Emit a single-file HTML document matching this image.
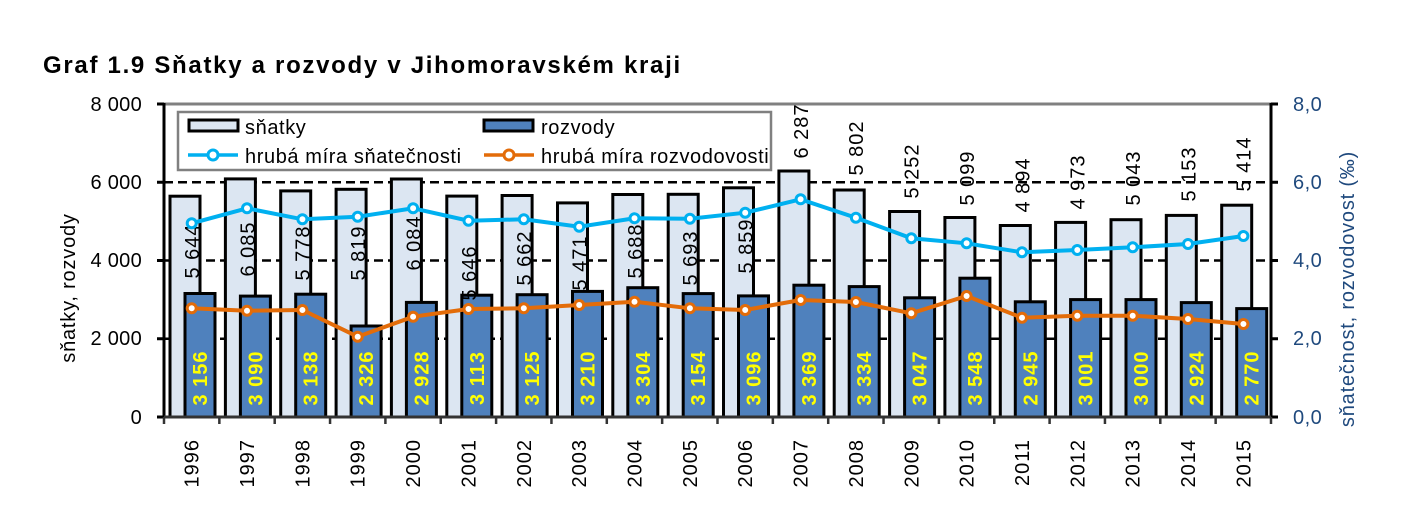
<!DOCTYPE html>
<html><head><meta charset="utf-8"><style>
html,body{margin:0;padding:0;background:#fff;}
svg{display:block;font-family:"Liberation Sans",Arial,sans-serif;}
</style></head><body>
<svg width="1404" height="531" viewBox="0 0 1404 531" xmlns="http://www.w3.org/2000/svg">
<text x="43" y="73" font-size="24" font-weight="bold" letter-spacing="1.7">Graf 1.9 Sňatky a rozvody v Jihomoravském kraji</text>

<line x1="164" y1="104" x2="1271" y2="104" stroke="#808080" stroke-width="3"/>
<g stroke="#000" stroke-width="2.5" stroke-dasharray="9,5">
<line x1="164" y1="182.25" x2="1271" y2="182.25"/>
<line x1="164" y1="260.5" x2="1271" y2="260.5"/>
<line x1="164" y1="338.75" x2="1271" y2="338.75"/>
</g>

<g fill="#dce6f2" stroke="#000" stroke-width="3">
<rect x="170" y="196.2" width="30" height="220.8"/>
<rect x="225.4" y="178.9" width="30" height="238.1"/>
<rect x="280.7" y="190.9" width="30" height="226.1"/>
<rect x="336.1" y="189.3" width="30" height="227.7"/>
<rect x="391.4" y="179" width="30" height="238"/>
<rect x="446.8" y="196.1" width="30" height="220.9"/>
<rect x="502.1" y="195.5" width="30" height="221.5"/>
<rect x="557.5" y="202.9" width="30" height="214.1"/>
<rect x="612.8" y="194.5" width="30" height="222.5"/>
<rect x="668.2" y="194.3" width="30" height="222.7"/>
<rect x="723.5" y="187.8" width="30" height="229.2"/>
<rect x="778.9" y="171" width="30" height="246"/>
<rect x="834.2" y="190" width="30" height="227"/>
<rect x="889.6" y="211.5" width="30" height="205.5"/>
<rect x="944.9" y="217.5" width="30" height="199.5"/>
<rect x="1000.3" y="225.5" width="30" height="191.5"/>
<rect x="1055.6" y="222.4" width="30" height="194.6"/>
<rect x="1111.0" y="219.7" width="30" height="197.3"/>
<rect x="1166.3" y="215.4" width="30" height="201.6"/>
<rect x="1221.7" y="205.2" width="30" height="211.8"/>
</g>
<g fill="#4f81bd" stroke="#000" stroke-width="3">
<rect x="185" y="293.5" width="30" height="123.5"/>
<rect x="240.4" y="296.1" width="30" height="120.9"/>
<rect x="295.7" y="294.2" width="30" height="122.8"/>
<rect x="351.1" y="326" width="30" height="91"/>
<rect x="406.4" y="302.4" width="30" height="114.6"/>
<rect x="461.8" y="295.2" width="30" height="121.8"/>
<rect x="517.1" y="294.7" width="30" height="122.3"/>
<rect x="572.5" y="291.4" width="30" height="125.6"/>
<rect x="627.8" y="287.7" width="30" height="129.3"/>
<rect x="683.2" y="293.6" width="30" height="123.4"/>
<rect x="738.5" y="295.9" width="30" height="121.1"/>
<rect x="793.9" y="285.2" width="30" height="131.8"/>
<rect x="849.2" y="286.6" width="30" height="130.4"/>
<rect x="904.6" y="297.8" width="30" height="119.2"/>
<rect x="959.9" y="278.2" width="30" height="138.8"/>
<rect x="1015.3" y="301.8" width="30" height="115.2"/>
<rect x="1070.6" y="299.6" width="30" height="117.4"/>
<rect x="1126.0" y="299.6" width="30" height="117.4"/>
<rect x="1181.3" y="302.6" width="30" height="114.4"/>
<rect x="1236.7" y="308.6" width="30" height="108.4"/>
</g>

<g font-size="20" letter-spacing="1" text-anchor="middle" fill="#000">
<text transform="translate(192,251) rotate(-90)" dy="7">5 644</text>
<text transform="translate(247.4,249) rotate(-90)" dy="7">6 085</text>
<text transform="translate(302.7,253) rotate(-90)" dy="7">5 778</text>
<text transform="translate(358.1,253) rotate(-90)" dy="7">5 819</text>
<text transform="translate(413.4,243) rotate(-90)" dy="7">6 084</text>
<text transform="translate(468.8,273) rotate(-90)" dy="7">5 646</text>
<text transform="translate(524.1,258) rotate(-90)" dy="7">5 662</text>
<text transform="translate(579.5,263) rotate(-90)" dy="7">5 471</text>
<text transform="translate(634.8,251) rotate(-90)" dy="7">5 688</text>
<text transform="translate(690.2,258) rotate(-90)" dy="7">5 693</text>
<text transform="translate(745.5,246) rotate(-90)" dy="7">5 859</text>
<text transform="translate(800.9,131) rotate(-90)" dy="7">6 287</text>
<text transform="translate(856.2,148) rotate(-90)" dy="7">5 802</text>
<text transform="translate(911.6,171) rotate(-90)" dy="7">5 252</text>
<text transform="translate(966.9,178) rotate(-90)" dy="7">5 099</text>
<text transform="translate(1022.3,185) rotate(-90)" dy="7">4 894</text>
<text transform="translate(1077.6,182) rotate(-90)" dy="7">4 973</text>
<text transform="translate(1133,178) rotate(-90)" dy="7">5 043</text>
<text transform="translate(1188.3,174) rotate(-90)" dy="7">5 153</text>
<text transform="translate(1243.7,164) rotate(-90)" dy="7">5 414</text>
</g>
<g font-size="20" letter-spacing="1" font-weight="bold" text-anchor="middle" fill="#ffff00">
<text transform="translate(200,378) rotate(-90)" dy="7">3 156</text>
<text transform="translate(255.4,378) rotate(-90)" dy="7">3 090</text>
<text transform="translate(310.7,378) rotate(-90)" dy="7">3 138</text>
<text transform="translate(366.1,378) rotate(-90)" dy="7">2 326</text>
<text transform="translate(421.4,378) rotate(-90)" dy="7">2 928</text>
<text transform="translate(476.8,378) rotate(-90)" dy="7">3 113</text>
<text transform="translate(532.1,378) rotate(-90)" dy="7">3 125</text>
<text transform="translate(587.5,378) rotate(-90)" dy="7">3 210</text>
<text transform="translate(642.8,378) rotate(-90)" dy="7">3 304</text>
<text transform="translate(698.2,378) rotate(-90)" dy="7">3 154</text>
<text transform="translate(753.5,378) rotate(-90)" dy="7">3 096</text>
<text transform="translate(808.9,378) rotate(-90)" dy="7">3 369</text>
<text transform="translate(864.2,378) rotate(-90)" dy="7">3 334</text>
<text transform="translate(919.6,378) rotate(-90)" dy="7">3 047</text>
<text transform="translate(974.9,378) rotate(-90)" dy="7">3 548</text>
<text transform="translate(1030.3,378) rotate(-90)" dy="7">2 945</text>
<text transform="translate(1085.6,378) rotate(-90)" dy="7">3 001</text>
<text transform="translate(1141,378) rotate(-90)" dy="7">3 000</text>
<text transform="translate(1196.3,378) rotate(-90)" dy="7">2 924</text>
<text transform="translate(1251.7,378) rotate(-90)" dy="7">2 770</text>
</g>

<polyline fill="none" stroke="#00b0f0" stroke-width="4" points="191.7,223.3 247,208.3 302.4,219.3 357.7,216.7 413.1,208.3 468.5,220.7 523.8,219.3 579.2,226.7 634.5,218.3 689.9,218.7 745.2,212.7 800.6,199.3 855.9,217.7 911.3,238.3 966.6,243.3 1022,252.3 1077.3,250 1132.7,247.3 1188,244 1243.4,236"/>
<g fill="#fff" stroke="#00b0f0" stroke-width="3">
<circle cx="191.7" cy="223.3" r="4.5"/><circle cx="247" cy="208.3" r="4.5"/><circle cx="302.4" cy="219.3" r="4.5"/><circle cx="357.7" cy="216.7" r="4.5"/><circle cx="413.1" cy="208.3" r="4.5"/><circle cx="468.5" cy="220.7" r="4.5"/><circle cx="523.8" cy="219.3" r="4.5"/><circle cx="579.2" cy="226.7" r="4.5"/><circle cx="634.5" cy="218.3" r="4.5"/><circle cx="689.9" cy="218.7" r="4.5"/><circle cx="745.2" cy="212.7" r="4.5"/><circle cx="800.6" cy="199.3" r="4.5"/><circle cx="855.9" cy="217.7" r="4.5"/><circle cx="911.3" cy="238.3" r="4.5"/><circle cx="966.6" cy="243.3" r="4.5"/><circle cx="1022" cy="252.3" r="4.5"/><circle cx="1077.3" cy="250" r="4.5"/><circle cx="1132.7" cy="247.3" r="4.5"/><circle cx="1188" cy="244" r="4.5"/><circle cx="1243.4" cy="236" r="4.5"/>
</g>
<polyline fill="none" stroke="#e36c09" stroke-width="4" points="191.7,308.3 247,310.7 302.4,310 357.7,336.7 413.1,316.7 468.5,309 523.8,308.3 579.2,305 634.5,301.7 689.9,308.3 745.2,310 800.6,300 855.9,302 911.3,313.3 966.6,296 1022,317.7 1077.3,315.7 1132.7,315.7 1188,319 1243.4,324"/>
<g fill="#fff" stroke="#e36c09" stroke-width="3">
<circle cx="191.7" cy="308.3" r="4.5"/><circle cx="247" cy="310.7" r="4.5"/><circle cx="302.4" cy="310" r="4.5"/><circle cx="357.7" cy="336.7" r="4.5"/><circle cx="413.1" cy="316.7" r="4.5"/><circle cx="468.5" cy="309" r="4.5"/><circle cx="523.8" cy="308.3" r="4.5"/><circle cx="579.2" cy="305" r="4.5"/><circle cx="634.5" cy="301.7" r="4.5"/><circle cx="689.9" cy="308.3" r="4.5"/><circle cx="745.2" cy="310" r="4.5"/><circle cx="800.6" cy="300" r="4.5"/><circle cx="855.9" cy="302" r="4.5"/><circle cx="911.3" cy="313.3" r="4.5"/><circle cx="966.6" cy="296" r="4.5"/><circle cx="1022" cy="317.7" r="4.5"/><circle cx="1077.3" cy="315.7" r="4.5"/><circle cx="1132.7" cy="315.7" r="4.5"/><circle cx="1188" cy="319" r="4.5"/><circle cx="1243.4" cy="324" r="4.5"/>
</g>

<g stroke="#000" stroke-width="3">
<line x1="164" y1="103" x2="164" y2="418"/>
<line x1="1271" y1="103" x2="1271" y2="418"/>
<line x1="157" y1="104" x2="164" y2="104"/><line x1="157" y1="182.25" x2="164" y2="182.25"/><line x1="157" y1="260.5" x2="164" y2="260.5"/><line x1="157" y1="338.75" x2="164" y2="338.75"/><line x1="157" y1="417" x2="164" y2="417"/>
<line x1="1271" y1="104" x2="1278" y2="104"/><line x1="1271" y1="182.25" x2="1278" y2="182.25"/><line x1="1271" y1="260.5" x2="1278" y2="260.5"/><line x1="1271" y1="338.75" x2="1278" y2="338.75"/><line x1="1271" y1="417" x2="1278" y2="417"/>
</g>
<line x1="164" y1="417" x2="1271" y2="417" stroke="#333" stroke-width="3"/>
<g stroke="#333" stroke-width="2.5">
<line x1="164" y1="417" x2="164" y2="424"/><line x1="219.35" y1="417" x2="219.35" y2="424"/><line x1="274.7" y1="417" x2="274.7" y2="424"/><line x1="330.05" y1="417" x2="330.05" y2="424"/><line x1="385.4" y1="417" x2="385.4" y2="424"/><line x1="440.75" y1="417" x2="440.75" y2="424"/><line x1="496.1" y1="417" x2="496.1" y2="424"/><line x1="551.45" y1="417" x2="551.45" y2="424"/><line x1="606.8" y1="417" x2="606.8" y2="424"/><line x1="662.15" y1="417" x2="662.15" y2="424"/><line x1="717.5" y1="417" x2="717.5" y2="424"/><line x1="772.85" y1="417" x2="772.85" y2="424"/><line x1="828.2" y1="417" x2="828.2" y2="424"/><line x1="883.55" y1="417" x2="883.55" y2="424"/><line x1="938.9" y1="417" x2="938.9" y2="424"/><line x1="994.25" y1="417" x2="994.25" y2="424"/><line x1="1049.6" y1="417" x2="1049.6" y2="424"/><line x1="1104.95" y1="417" x2="1104.95" y2="424"/><line x1="1160.3" y1="417" x2="1160.3" y2="424"/><line x1="1215.65" y1="417" x2="1215.65" y2="424"/><line x1="1271" y1="417" x2="1271" y2="424"/>
</g>

<g font-size="20" letter-spacing="0.3" text-anchor="end" fill="#000">
<text x="142" y="111">8 000</text>
<text x="142" y="189">6 000</text>
<text x="142" y="267">4 000</text>
<text x="142" y="345">2 000</text>
<text x="142" y="424">0</text>
</g>
<g font-size="20" letter-spacing="0.5" fill="#1f497d">
<text x="1293" y="111">8,0</text>
<text x="1293" y="189">6,0</text>
<text x="1293" y="267">4,0</text>
<text x="1293" y="345">2,0</text>
<text x="1293" y="424">0,0</text>
</g>
<text transform="translate(68,288) rotate(-90)" font-size="20" letter-spacing="0.8" text-anchor="middle" dy="7">sňatky, rozvody</text>
<text transform="translate(1347,289) rotate(-90)" font-size="20" letter-spacing="0.8" text-anchor="middle" dy="7" fill="#1f497d">sňatečnost, rozvodovost (‰)</text>

<g font-size="20" letter-spacing="1" text-anchor="end">
<text transform="translate(191.7,439) rotate(-90)" dy="7">1996</text>
<text transform="translate(247,439) rotate(-90)" dy="7">1997</text>
<text transform="translate(302.4,439) rotate(-90)" dy="7">1998</text>
<text transform="translate(357.7,439) rotate(-90)" dy="7">1999</text>
<text transform="translate(413.1,439) rotate(-90)" dy="7">2000</text>
<text transform="translate(468.5,439) rotate(-90)" dy="7">2001</text>
<text transform="translate(523.8,439) rotate(-90)" dy="7">2002</text>
<text transform="translate(579.2,439) rotate(-90)" dy="7">2003</text>
<text transform="translate(634.5,439) rotate(-90)" dy="7">2004</text>
<text transform="translate(689.9,439) rotate(-90)" dy="7">2005</text>
<text transform="translate(745.2,439) rotate(-90)" dy="7">2006</text>
<text transform="translate(800.6,439) rotate(-90)" dy="7">2007</text>
<text transform="translate(855.9,439) rotate(-90)" dy="7">2008</text>
<text transform="translate(911.3,439) rotate(-90)" dy="7">2009</text>
<text transform="translate(966.6,439) rotate(-90)" dy="7">2010</text>
<text transform="translate(1022,439) rotate(-90)" dy="7">2011</text>
<text transform="translate(1077.3,439) rotate(-90)" dy="7">2012</text>
<text transform="translate(1132.7,439) rotate(-90)" dy="7">2013</text>
<text transform="translate(1188,439) rotate(-90)" dy="7">2014</text>
<text transform="translate(1243.4,439) rotate(-90)" dy="7">2015</text>
</g>

<rect x="178" y="112" width="593" height="58" fill="#fff" stroke="#808080" stroke-width="2.5"/>
<rect x="189" y="120" width="49" height="11" fill="#dce6f2" stroke="#000" stroke-width="3"/>
<text x="245" y="134" font-size="20" letter-spacing="0.6">sňatky</text>
<line x1="188" y1="155" x2="238" y2="155" stroke="#00b0f0" stroke-width="3.5"/>
<circle cx="213" cy="155" r="5" fill="#fff" stroke="#00b0f0" stroke-width="3"/>
<text x="245" y="163" font-size="20" letter-spacing="0.6">hrubá míra sňatečnosti</text>
<rect x="484" y="120" width="49" height="11" fill="#4f81bd" stroke="#000" stroke-width="3"/>
<text x="541" y="134" font-size="20" letter-spacing="0.6">rozvody</text>
<line x1="484" y1="155" x2="534" y2="155" stroke="#e36c09" stroke-width="3.5"/>
<circle cx="509" cy="155" r="5" fill="#fff" stroke="#e36c09" stroke-width="3"/>
<text x="541" y="163" font-size="20" letter-spacing="0.6">hrubá míra rozvodovosti</text>
</svg>
</body></html>
